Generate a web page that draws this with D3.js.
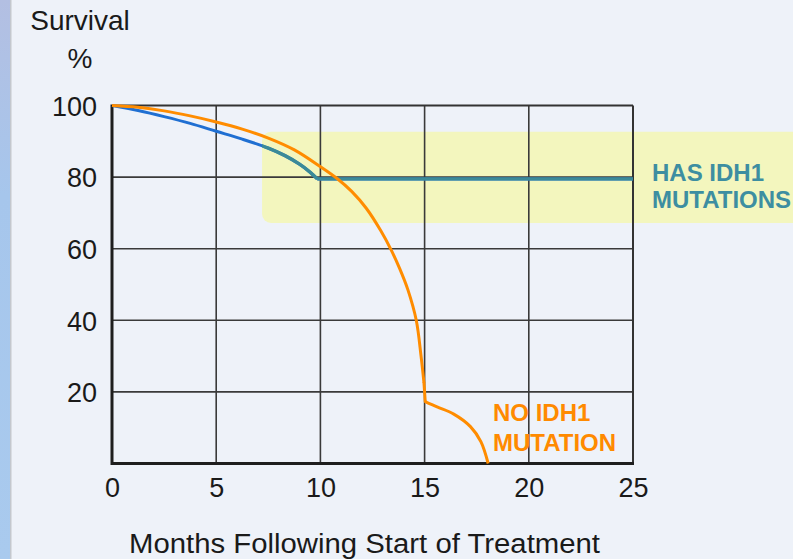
<!DOCTYPE html>
<html>
<head>
<meta charset="utf-8">
<script src="https://cdn.jsdelivr.net/npm/d3@7"></script>
<style>
  html, body { margin: 0; padding: 0; background: #eef2f9; }
  svg { display: block; font-family: "Liberation Sans", Arial, Helvetica, sans-serif; }
</style>
</head>
<body>
<svg id="chart" width="793" height="559"></svg>
<script>
// Kaplan–Meier style survival curves, months vs. percent surviving
const monthTicks = [0, 5, 10, 15, 20, 25];
const survivalTicks = [20, 40, 60, 80, 100];

// Patients with IDH1 mutations
const idh1Months   = [0, 1.25, 2.5, 3.75, 5, 6.25, 7.5, 8.3, 9, 9.5, 9.85, 25];
const idh1Survival = [100, 98.6, 96.9, 95, 92.8, 90.6, 88.1, 86, 83.6, 81.4, 79.5, 79.5];

// Patients without IDH1 mutation
const noIdh1Months   = [0, 1.25, 2.5, 3.75, 5, 6.25, 7.5, 8.75, 10, 10.8, 11.5, 12.2, 12.9, 13.4, 13.8, 14.2, 14.6, 14.83, 14.97];
const noIdh1Survival = [100, 99.5, 98.5, 97.1, 95.4, 93.4, 90.9, 87.6, 82.9, 79.6, 76, 71.3, 65, 59.6, 54.5, 48.5, 40, 30, 22.5];
// Tail after the drop at 15 months
const noIdh1TailMonths   = [15.03, 15.6, 16.4, 17.2, 17.7, 18.05];
const noIdh1TailSurvival = [17.3, 15.8, 13.8, 10.3, 6.1, 0];

// Highlighted band behind the IDH1 plateau (month start, survival top/bottom)
const bandMonthStart = [7.2];
const bandSurvival = [92.7, 67.2];

const svg = d3.select("#chart");
const W = 793, H = 559;
const FONT = "Liberation Sans, Arial, sans-serif";

const x = d3.scaleLinear().domain([0, 25]).range([112, 633]);
const y = d3.scaleLinear().domain([0, 100]).range([463.5, 105.5]);

// Slide background and left edge strip
const defs = svg.append("defs");
const stripGrad = defs.append("linearGradient").attr("id", "strip").attr("x1", 0).attr("y1", 0).attr("x2", 0).attr("y2", 1);
stripGrad.append("stop").attr("offset", "0%").attr("stop-color", "#b3bfe2");
stripGrad.append("stop").attr("offset", "35%").attr("stop-color", "#a6c6ec");
stripGrad.append("stop").attr("offset", "100%").attr("stop-color", "#a9caee");

svg.append("rect").attr("width", W).attr("height", H).attr("fill", "#eef2f9");
svg.append("rect").attr("x", 0).attr("y", 0).attr("width", 10).attr("height", H).attr("fill", "url(#strip)");
svg.append("rect").attr("x", 10).attr("y", 0).attr("width", 1.5).attr("height", H).attr("fill", "#c4c8ce");

// Highlight band
const bandX = x(bandMonthStart[0]);
const bandY = y(bandSurvival[0]);
const bandH = y(bandSurvival[1]) - y(bandSurvival[0]);
svg.append("rect")
  .attr("x", bandX).attr("y", bandY)
  .attr("width", W - bandX + 20).attr("height", bandH)
  .attr("rx", 9).attr("ry", 9)
  .attr("fill", "#f3f6be");

defs.append("clipPath").attr("id", "bandClip")
  .append("rect")
  .attr("x", bandX).attr("y", bandY)
  .attr("width", W - bandX + 20).attr("height", bandH)
  .attr("rx", 9).attr("ry", 9);

// Grid
const grid = svg.append("g").attr("stroke", "#3a3a3a").attr("stroke-width", 1.6);
grid.selectAll("line.v").data(monthTicks.filter(d => d > 0 && d < 25)).join("line")
  .attr("x1", d => x(d)).attr("x2", d => x(d))
  .attr("y1", y(100)).attr("y2", y(0));
grid.selectAll("line.h").data(survivalTicks.filter(d => d < 100)).join("line")
  .attr("x1", x(0)).attr("x2", x(25))
  .attr("y1", d => y(d)).attr("y2", d => y(d));

// Frame: thin top/right, heavy left/bottom axes
svg.append("line").attr("x1", x(0)).attr("x2", x(25)).attr("y1", y(100)).attr("y2", y(100))
  .attr("stroke", "#333").attr("stroke-width", 2);
svg.append("line").attr("x1", x(25)).attr("x2", x(25)).attr("y1", y(100)).attr("y2", y(0))
  .attr("stroke", "#333").attr("stroke-width", 2);
svg.append("line").attr("x1", x(0)).attr("x2", x(25) + 1).attr("y1", y(0)).attr("y2", y(0))
  .attr("stroke", "#1e1e1e").attr("stroke-width", 2.8);
svg.append("line").attr("x1", x(0)).attr("x2", x(0)).attr("y1", y(100) - 1).attr("y2", y(0) + 1.4)
  .attr("stroke", "#1e1e1e").attr("stroke-width", 3);

// Axis tick labels
const xAxis = d3.axisBottom(x).tickValues(monthTicks).tickSize(0).tickPadding(0);
const gx = svg.append("g").attr("transform", `translate(0,${y(0) + 33})`).call(xAxis);
gx.select(".domain").remove();
gx.selectAll("text").attr("dy", 0).attr("y", 0)
  .attr("font-size", 27).attr("fill", "#1a1a1a").attr("font-family", FONT);

const yAxis = d3.axisLeft(y).tickValues(survivalTicks).tickSize(0).tickPadding(0);
const gy = svg.append("g").attr("transform", `translate(${x(0) - 15},0)`).call(yAxis);
gy.select(".domain").remove();
gy.selectAll("text").attr("dy", "0.36em")
  .attr("font-size", 27).attr("fill", "#1a1a1a").attr("font-family", FONT);

// Axis titles
svg.append("text").attr("x", 80).attr("y", 30).attr("text-anchor", "middle")
  .attr("font-size", 28).attr("fill", "#1a1a1a").text("Survival");
svg.append("text").attr("x", 80).attr("y", 68).attr("text-anchor", "middle")
  .attr("font-size", 28).attr("fill", "#1a1a1a").text("%");
svg.append("text").attr("x", 129).attr("y", 553)
  .attr("font-size", 27).attr("fill", "#1a1a1a")
  .attr("textLength", 471).attr("lengthAdjust", "spacingAndGlyphs")
  .text("Months Following Start of Treatment");

// Curves
const line = d3.line().x(d => x(d[0])).y(d => y(d[1])).curve(d3.curveCatmullRom.alpha(0.5));
const straight = d3.line().x(d => x(d[0])).y(d => y(d[1]));
const idh1 = d3.zip(idh1Months, idh1Survival);
const noIdh1 = d3.zip(noIdh1Months, noIdh1Survival);
const noIdh1Tail = d3.zip(noIdh1TailMonths, noIdh1TailSurvival);

// IDH1 curve: rounded section up to the plateau, then straight plateau
const idh1Curve = idh1.slice(0, idh1.length - 1);
const idh1Flat = idh1.slice(idh1.length - 2);

[["#1f6fd2", 3, null], ["#3b8a98", 3.4, "url(#bandClip)"]].forEach(([color, w, clip]) => {
  const g = svg.append("g").attr("clip-path", clip);
  g.append("path").datum(idh1Curve).attr("d", line)
    .attr("fill", "none").attr("stroke", color).attr("stroke-width", w);
  g.append("path").datum(idh1Flat).attr("d", straight)
    .attr("fill", "none").attr("stroke", color).attr("stroke-width", w);
});

// No-IDH1 curve: decline, near-vertical drop at 15 months, tail to zero
svg.append("path").datum(noIdh1).attr("d", line)
  .attr("fill", "none").attr("stroke", "#ff8c00").attr("stroke-width", 3);
svg.append("path").datum([noIdh1[noIdh1.length - 1], noIdh1Tail[0]]).attr("d", straight)
  .attr("fill", "none").attr("stroke", "#ff8c00").attr("stroke-width", 3)
  .attr("stroke-linecap", "round");
svg.append("path").datum(noIdh1Tail).attr("d", line)
  .attr("fill", "none").attr("stroke", "#ff8c00").attr("stroke-width", 3);

// Series labels
const hasLbl = svg.append("text").attr("font-size", 24).attr("font-weight", "bold")
  .attr("fill", "#3d8ea1").attr("font-family", FONT);
hasLbl.append("tspan").attr("x", 652).attr("y", 181).text("HAS IDH1");
hasLbl.append("tspan").attr("x", 652).attr("y", 208).text("MUTATIONS");

const noLbl = svg.append("text").attr("font-size", 24).attr("font-weight", "bold")
  .attr("fill", "#ff8a00").attr("font-family", FONT);
noLbl.append("tspan").attr("x", 493).attr("y", 421).text("NO IDH1");
noLbl.append("tspan").attr("x", 493).attr("y", 451).text("MUTATION");
</script>
</body>
</html>
